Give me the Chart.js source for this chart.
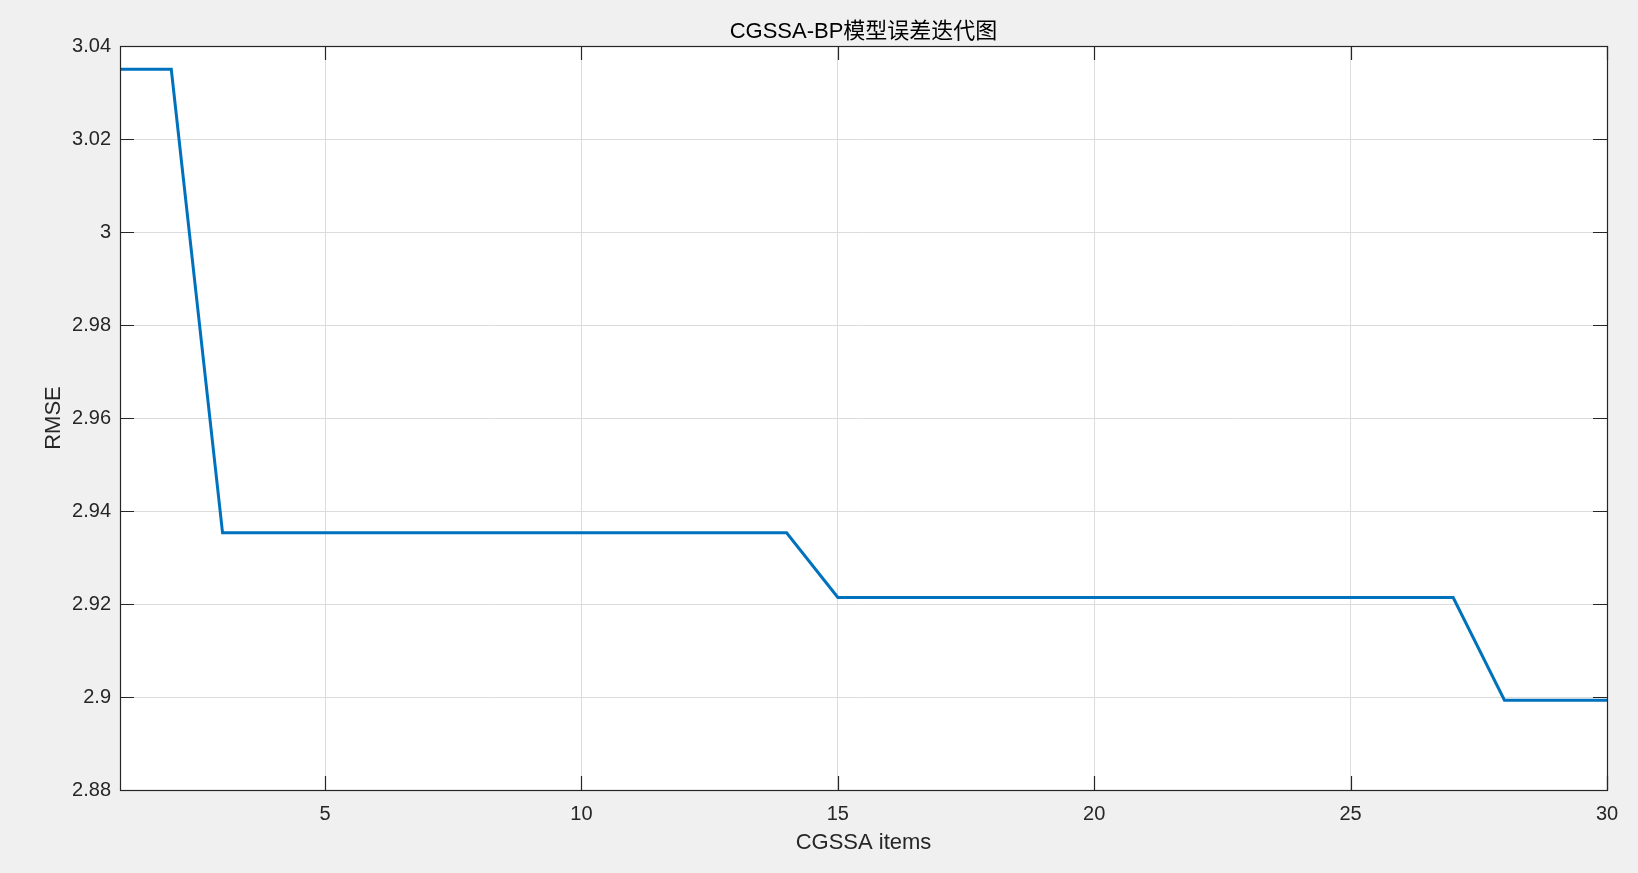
<!DOCTYPE html>
<html>
<head>
<meta charset="utf-8">
<script src="https://cdn.jsdelivr.net/npm/chart.js@4/dist/chart.umd.min.js"></script>
<style>
  html, body { margin: 0; padding: 0; background: #f0f0f0; }
  #wrap { width: 1638px; height: 873px; }
</style>
</head>
<body>
<div id="wrap"><canvas id="c" width="1638" height="873"></canvas></div>
<script>
const chartTitle = 'CGSSA-BP模型误差迭代图';
const xLabel = 'CGSSA items';
const yLabel = 'RMSE';
const iterations = [1,2,3,4,5,6,7,8,9,10,11,12,13,14,15,16,17,18,19,20,21,22,23,24,25,26,27,28,29,30];
const rmse = [3.0350,3.0350,
  2.9353,2.9353,2.9353,2.9353,2.9353,2.9353,2.9353,2.9353,2.9353,2.9353,2.9353,2.9353,
  2.9214,2.9214,2.9214,2.9214,2.9214,2.9214,2.9214,2.9214,2.9214,2.9214,2.9214,2.9214,2.9214,
  2.8993,2.8993,2.8993];
const xTicks = [5,10,15,20,25,30];
const yTicks = [2.88,2.90,2.92,2.94,2.96,2.98,3.00,3.02,3.04];

const FONT = '"Liberation Sans", Arial, "Noto Sans CJK SC", sans-serif';

const matlabAxes = {
  id: 'matlabAxes',
  beforeDraw(chart) {
    const ctx = chart.ctx, a = chart.chartArea;
    ctx.save();
    ctx.fillStyle = '#f0f0f0';
    ctx.fillRect(0, 0, chart.width, chart.height);
    ctx.fillStyle = '#ffffff';
    ctx.fillRect(a.left, a.top, a.right - a.left, a.bottom - a.top);
    ctx.restore();
  },
  afterDraw(chart) {
    const ctx = chart.ctx, a = chart.chartArea;
    const xs = chart.scales.x, ys = chart.scales.y;
    const L = 14;
    ctx.save();
    ctx.strokeStyle = '#262626';
    ctx.lineWidth = 1.2;
    ctx.beginPath();
    xTicks.forEach(v => {
      const px = Math.round(xs.getPixelForValue(v)) + 0.5;
      ctx.moveTo(px, a.bottom); ctx.lineTo(px, a.bottom - L);
      ctx.moveTo(px, a.top); ctx.lineTo(px, a.top + L);
    });
    yTicks.forEach(v => {
      const py = Math.round(ys.getPixelForValue(v)) + 0.5;
      ctx.moveTo(a.left, py); ctx.lineTo(a.left + L, py);
      ctx.moveTo(a.right, py); ctx.lineTo(a.right - L, py);
    });
    ctx.stroke();
    ctx.strokeRect(Math.round(a.left) + 0.5, Math.round(a.top) + 0.5,
                   Math.round(a.right - a.left), Math.round(a.bottom - a.top));
    // title
    ctx.fillStyle = '#000000';
    ctx.font = 'normal 22px ' + FONT;
    ctx.textAlign = 'center';
    ctx.textBaseline = 'middle';
    ctx.fillText(chartTitle, (a.left + a.right) / 2, 32);
    ctx.restore();
  }
};

new Chart(document.getElementById('c'), {
  type: 'line',
  data: {
    datasets: [{
      data: iterations.map((x, i) => ({ x: x, y: rmse[i] })),
      borderColor: '#0072BD',
      borderWidth: 3,
      pointRadius: 0,
      tension: 0,
      fill: false
    }]
  },
  options: {
    responsive: false,
    animation: false,
    devicePixelRatio: 1,
    layout: { padding: { left: 0, right: 31, top: 46, bottom: 0 } },
    plugins: {
      legend: { display: false },
      tooltip: { enabled: false },
      title: { display: false }
    },
    scales: {
      x: {
        type: 'linear',
        min: 1, max: 30,
        afterBuildTicks: s => { s.ticks = xTicks.map(v => ({ value: v })); },
        afterFit: s => { s.height = 83; },
        grid: { color: '#dcdcdc', lineWidth: 1, drawTicks: false },
        border: { display: false },
        ticks: {
          color: '#262626',
          font: { family: FONT, size: 20 },
          padding: 12,
          maxRotation: 0,
          autoSkip: false,
          callback: v => String(v)
        },
        title: {
          display: true,
          text: xLabel,
          color: '#262626',
          font: { family: FONT, size: 22, lineHeight: 1.2 },
          padding: { top: 0, bottom: 17 }
        }
      },
      y: {
        type: 'linear',
        min: 2.88, max: 3.04,
        afterBuildTicks: s => { s.ticks = yTicks.map(v => ({ value: v })); },
        afterFit: s => { s.width = 120; },
        grid: { color: '#dcdcdc', lineWidth: 1, drawTicks: false },
        border: { display: false },
        ticks: {
          color: '#262626',
          font: { family: FONT, size: 20 },
          padding: 9,
          autoSkip: false,
          callback: v => String(parseFloat(Number(v).toFixed(2)))
        },
        title: {
          display: true,
          text: yLabel,
          color: '#262626',
          font: { family: FONT, size: 22, lineHeight: 1.2 },
          padding: { top: 41, bottom: 0 }
        }
      }
    }
  },
  plugins: [matlabAxes]
});
</script>
</body>
</html>
